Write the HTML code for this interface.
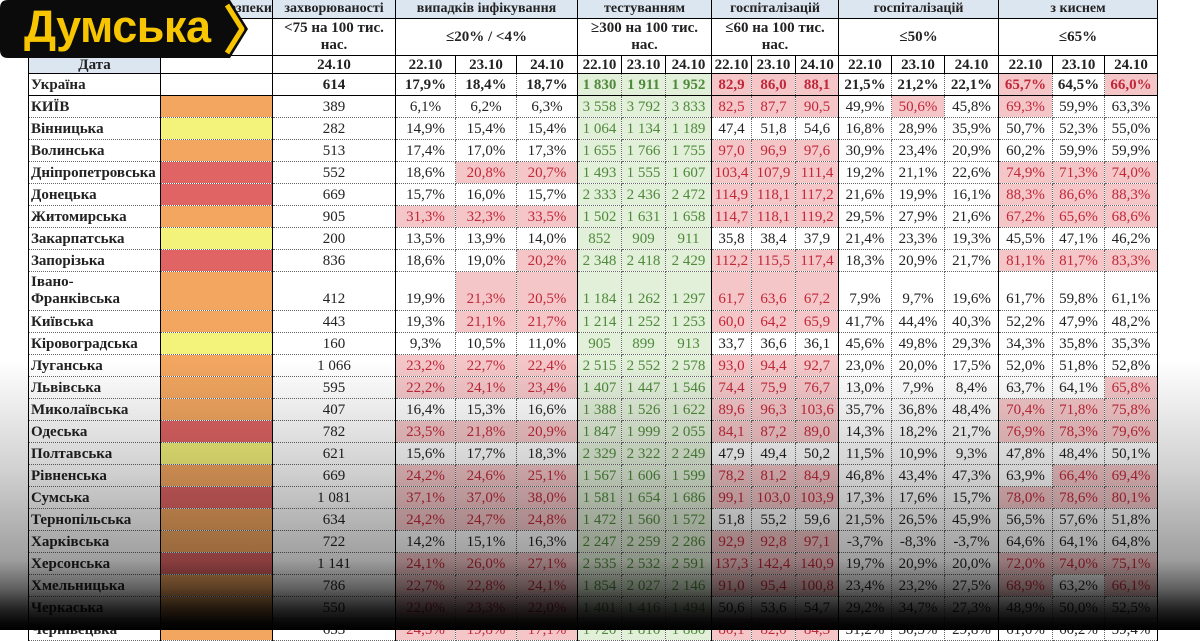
<!DOCTYPE html>
<html><head><meta charset="utf-8">
<style>
html,body{margin:0;padding:0;width:1200px;height:630px;overflow:hidden;background:#fff}
table{position:absolute;left:28px;top:-1px;border-collapse:collapse;table-layout:fixed;width:1130px}
td{border:1px dotted #666;padding:0;text-align:center;font-family:"Liberation Serif",serif;font-size:15px;color:#222;white-space:nowrap;overflow:hidden;line-height:18px}
colgroup{border-left:1px solid #000;border-right:1px solid #000}
tr{height:22px}
tr.h1{height:19px}
tr.h1 td{background:#dce6f1;font-weight:bold;font-size:14px;border-bottom:1px solid #000}
tr.h2{height:37px}
tr.h2 td{font-weight:bold;font-size:15px;border-bottom:1px solid #000;line-height:17px;white-space:normal}
tr.h3{height:18px}
tr.h3 td{font-weight:bold;font-size:15px;border-bottom:1px solid #000;border-left:1px solid #000;line-height:16px}
tr.ua td{font-weight:bold;border-bottom:1px solid #000}
td.n{text-align:left;font-weight:bold;font-size:15px;padding-left:2px}
td.p{background:#f4c6c8;color:#c0283a}
td.g{background:#e2efd9;color:#4f8a3c}
tr.iv{height:39px}
tr.iv td{vertical-align:bottom;padding-bottom:2px}
tr.iv td.n{line-height:17px;white-space:normal}
.O{background:#f2a660}.Y{background:#f3f27a}.R{background:#e06464}
#ov{position:absolute;left:0;top:0;width:1200px;height:630px;background:linear-gradient(to bottom,rgba(0,0,0,0) 0,rgba(0,0,0,0) 360px,rgba(0,0,0,.18) 470px,rgba(0,0,0,.38) 560px,rgba(0,0,0,.62) 588px,rgba(0,0,0,.85) 608px,rgba(0,0,0,.97) 622px,rgba(0,0,0,1) 630px)}
#logo{position:absolute;left:0;top:0;width:250px;height:58px}
#logo span{position:absolute;left:24px;top:1px;font-family:"Liberation Sans",sans-serif;font-weight:bold;font-size:45px;color:#f7c600;letter-spacing:-0.5px}
</style></head><body>
<table>
<colgroup><col style="width:132px"></colgroup>
<colgroup><col style="width:112px"></colgroup>
<colgroup><col style="width:123px"></colgroup>
<colgroup><col style="width:60px"><col style="width:61px"><col style="width:61px"></colgroup>
<colgroup><col style="width:44px"><col style="width:44px"><col style="width:46px"></colgroup>
<colgroup><col style="width:40px"><col style="width:44px"><col style="width:43px"></colgroup>
<colgroup><col style="width:53px"><col style="width:53px"><col style="width:54px"></colgroup>
<colgroup><col style="width:54px"><col style="width:52px"><col style="width:53px"></colgroup>
<tr class="h1"><td></td><td style="text-align:right">небезпеки</td><td>захворюваності</td><td colspan="3">випадків інфікування</td><td colspan="3">тестуванням</td><td colspan="3">госпіталізацій</td><td colspan="3">госпіталізацій</td><td colspan="3">з киснем</td></tr>
<tr class="h2"><td></td><td></td><td>&lt;75 на 100 тис. нас.</td><td colspan="3">≤20% / &lt;4%</td><td colspan="3">≥300 на 100 тис. нас.</td><td colspan="3">≤60 на 100 тис. нас.</td><td colspan="3">≤50%</td><td colspan="3">≤65%</td></tr>
<tr class="h3"><td style="background:#dce6f1">Дата</td><td></td><td>24.10</td><td>22.10</td><td>23.10</td><td>24.10</td><td>22.10</td><td>23.10</td><td>24.10</td><td>22.10</td><td>23.10</td><td>24.10</td><td>22.10</td><td>23.10</td><td>24.10</td><td>22.10</td><td>23.10</td><td>24.10</td></tr>
<tr class="ua"><td class="n">Україна</td><td></td><td>614</td><td>17,9%</td><td>18,4%</td><td>18,7%</td><td class="g">1 830</td><td class="g">1 911</td><td class="g">1 952</td><td class="p">82,9</td><td class="p">86,0</td><td class="p">88,1</td><td>21,5%</td><td>21,2%</td><td>22,1%</td><td class="p">65,7%</td><td>64,5%</td><td class="p">66,0%</td></tr>
<tr><td class="n">КИЇВ</td><td class="O"></td><td>389</td><td>6,1%</td><td>6,2%</td><td>6,3%</td><td class="g">3 558</td><td class="g">3 792</td><td class="g">3 833</td><td class="p">82,5</td><td class="p">87,7</td><td class="p">90,5</td><td>49,9%</td><td class="p">50,6%</td><td>45,8%</td><td class="p">69,3%</td><td>59,9%</td><td>63,3%</td></tr>
<tr><td class="n">Вінницька</td><td class="Y"></td><td>282</td><td>14,9%</td><td>15,4%</td><td>15,4%</td><td class="g">1 064</td><td class="g">1 134</td><td class="g">1 189</td><td>47,4</td><td>51,8</td><td>54,6</td><td>16,8%</td><td>28,9%</td><td>35,9%</td><td>50,7%</td><td>52,3%</td><td>55,0%</td></tr>
<tr><td class="n">Волинська</td><td class="O"></td><td>513</td><td>17,4%</td><td>17,0%</td><td>17,3%</td><td class="g">1 655</td><td class="g">1 766</td><td class="g">1 755</td><td class="p">97,0</td><td class="p">96,9</td><td class="p">97,6</td><td>30,9%</td><td>23,4%</td><td>20,9%</td><td>60,2%</td><td>59,9%</td><td>59,9%</td></tr>
<tr><td class="n">Дніпропетровська</td><td class="R"></td><td>552</td><td>18,6%</td><td class="p">20,8%</td><td class="p">20,7%</td><td class="g">1 493</td><td class="g">1 555</td><td class="g">1 607</td><td class="p">103,4</td><td class="p">107,9</td><td class="p">111,4</td><td>19,2%</td><td>21,1%</td><td>22,6%</td><td class="p">74,9%</td><td class="p">71,3%</td><td class="p">74,0%</td></tr>
<tr><td class="n">Донецька</td><td class="R"></td><td>669</td><td>15,7%</td><td>16,0%</td><td>15,7%</td><td class="g">2 333</td><td class="g">2 436</td><td class="g">2 472</td><td class="p">114,9</td><td class="p">118,1</td><td class="p">117,2</td><td>21,6%</td><td>19,9%</td><td>16,1%</td><td class="p">88,3%</td><td class="p">86,6%</td><td class="p">88,3%</td></tr>
<tr><td class="n">Житомирська</td><td class="O"></td><td>905</td><td class="p">31,3%</td><td class="p">32,3%</td><td class="p">33,5%</td><td class="g">1 502</td><td class="g">1 631</td><td class="g">1 658</td><td class="p">114,7</td><td class="p">118,1</td><td class="p">119,2</td><td>29,5%</td><td>27,9%</td><td>21,6%</td><td class="p">67,2%</td><td class="p">65,6%</td><td class="p">68,6%</td></tr>
<tr><td class="n">Закарпатська</td><td class="Y"></td><td>200</td><td>13,5%</td><td>13,9%</td><td>14,0%</td><td class="g">852</td><td class="g">909</td><td class="g">911</td><td>35,8</td><td>38,4</td><td>37,9</td><td>21,4%</td><td>23,3%</td><td>19,3%</td><td>45,5%</td><td>47,1%</td><td>46,2%</td></tr>
<tr><td class="n">Запорізька</td><td class="R"></td><td>836</td><td>18,6%</td><td>19,0%</td><td class="p">20,2%</td><td class="g">2 348</td><td class="g">2 418</td><td class="g">2 429</td><td class="p">112,2</td><td class="p">115,5</td><td class="p">117,4</td><td>18,3%</td><td>20,9%</td><td>21,7%</td><td class="p">81,1%</td><td class="p">81,7%</td><td class="p">83,3%</td></tr>
<tr class="iv"><td class="n">Івано-<br>Франківська</td><td class="O"></td><td>412</td><td>19,9%</td><td class="p">21,3%</td><td class="p">20,5%</td><td class="g">1 184</td><td class="g">1 262</td><td class="g">1 297</td><td class="p">61,7</td><td class="p">63,6</td><td class="p">67,2</td><td>7,9%</td><td>9,7%</td><td>19,6%</td><td>61,7%</td><td>59,8%</td><td>61,1%</td></tr>
<tr><td class="n">Київська</td><td class="O"></td><td>443</td><td>19,3%</td><td class="p">21,1%</td><td class="p">21,7%</td><td class="g">1 214</td><td class="g">1 252</td><td class="g">1 253</td><td class="p">60,0</td><td class="p">64,2</td><td class="p">65,9</td><td>41,7%</td><td>44,4%</td><td>40,3%</td><td>52,2%</td><td>47,9%</td><td>48,2%</td></tr>
<tr><td class="n">Кіровоградська</td><td class="Y"></td><td>160</td><td>9,3%</td><td>10,5%</td><td>11,0%</td><td class="g">905</td><td class="g">899</td><td class="g">913</td><td>33,7</td><td>36,6</td><td>36,1</td><td>45,6%</td><td>49,8%</td><td>29,3%</td><td>34,3%</td><td>35,8%</td><td>35,3%</td></tr>
<tr><td class="n">Луганська</td><td class="O"></td><td>1 066</td><td class="p">23,2%</td><td class="p">22,7%</td><td class="p">22,4%</td><td class="g">2 515</td><td class="g">2 552</td><td class="g">2 578</td><td class="p">93,0</td><td class="p">94,4</td><td class="p">92,7</td><td>23,0%</td><td>20,0%</td><td>17,5%</td><td>52,0%</td><td>51,8%</td><td>52,8%</td></tr>
<tr><td class="n">Львівська</td><td class="O"></td><td>595</td><td class="p">22,2%</td><td class="p">24,1%</td><td class="p">23,4%</td><td class="g">1 407</td><td class="g">1 447</td><td class="g">1 546</td><td class="p">74,4</td><td class="p">75,9</td><td class="p">76,7</td><td>13,0%</td><td>7,9%</td><td>8,4%</td><td>63,7%</td><td>64,1%</td><td class="p">65,8%</td></tr>
<tr><td class="n">Миколаївська</td><td class="O"></td><td>407</td><td>16,4%</td><td>15,3%</td><td>16,6%</td><td class="g">1 388</td><td class="g">1 526</td><td class="g">1 622</td><td class="p">89,6</td><td class="p">96,3</td><td class="p">103,6</td><td>35,7%</td><td>36,8%</td><td>48,4%</td><td class="p">70,4%</td><td class="p">71,8%</td><td class="p">75,8%</td></tr>
<tr><td class="n">Одеська</td><td class="R"></td><td>782</td><td class="p">23,5%</td><td class="p">21,8%</td><td class="p">20,9%</td><td class="g">1 847</td><td class="g">1 999</td><td class="g">2 055</td><td class="p">84,1</td><td class="p">87,2</td><td class="p">89,0</td><td>14,3%</td><td>18,2%</td><td>21,7%</td><td class="p">76,9%</td><td class="p">78,3%</td><td class="p">79,6%</td></tr>
<tr><td class="n">Полтавська</td><td class="Y"></td><td>621</td><td>15,6%</td><td>17,7%</td><td>18,3%</td><td class="g">2 329</td><td class="g">2 322</td><td class="g">2 249</td><td>47,9</td><td>49,4</td><td>50,2</td><td>11,5%</td><td>10,9%</td><td>9,3%</td><td>47,8%</td><td>48,4%</td><td>50,1%</td></tr>
<tr><td class="n">Рівненська</td><td class="O"></td><td>669</td><td class="p">24,2%</td><td class="p">24,6%</td><td class="p">25,1%</td><td class="g">1 567</td><td class="g">1 606</td><td class="g">1 599</td><td class="p">78,2</td><td class="p">81,2</td><td class="p">84,9</td><td>46,8%</td><td>43,4%</td><td>47,3%</td><td>63,9%</td><td class="p">66,4%</td><td class="p">69,4%</td></tr>
<tr><td class="n">Сумська</td><td class="R"></td><td>1 081</td><td class="p">37,1%</td><td class="p">37,0%</td><td class="p">38,0%</td><td class="g">1 581</td><td class="g">1 654</td><td class="g">1 686</td><td class="p">99,1</td><td class="p">103,0</td><td class="p">103,9</td><td>17,3%</td><td>17,6%</td><td>15,7%</td><td class="p">78,0%</td><td class="p">78,6%</td><td class="p">80,1%</td></tr>
<tr><td class="n">Тернопільська</td><td class="O"></td><td>634</td><td class="p">24,2%</td><td class="p">24,7%</td><td class="p">24,8%</td><td class="g">1 472</td><td class="g">1 560</td><td class="g">1 572</td><td>51,8</td><td>55,2</td><td>59,6</td><td>21,5%</td><td>26,5%</td><td>45,9%</td><td>56,5%</td><td>57,6%</td><td>51,8%</td></tr>
<tr><td class="n">Харківська</td><td class="O"></td><td>722</td><td>14,2%</td><td>15,1%</td><td>16,3%</td><td class="g">2 247</td><td class="g">2 259</td><td class="g">2 286</td><td class="p">92,9</td><td class="p">92,8</td><td class="p">97,1</td><td>-3,7%</td><td>-8,3%</td><td>-3,7%</td><td>64,6%</td><td>64,1%</td><td>64,8%</td></tr>
<tr><td class="n">Херсонська</td><td class="R"></td><td>1 141</td><td class="p">24,1%</td><td class="p">26,0%</td><td class="p">27,1%</td><td class="g">2 535</td><td class="g">2 532</td><td class="g">2 591</td><td class="p">137,3</td><td class="p">142,4</td><td class="p">140,9</td><td>19,7%</td><td>20,9%</td><td>20,0%</td><td class="p">72,0%</td><td class="p">74,0%</td><td class="p">75,1%</td></tr>
<tr><td class="n">Хмельницька</td><td class="O"></td><td>786</td><td class="p">22,7%</td><td class="p">22,8%</td><td class="p">24,1%</td><td class="g">1 854</td><td class="g">2 027</td><td class="g">2 146</td><td class="p">91,0</td><td class="p">95,4</td><td class="p">100,8</td><td>23,4%</td><td>23,2%</td><td>27,5%</td><td class="p">68,9%</td><td>63,2%</td><td class="p">66,1%</td></tr>
<tr><td class="n">Черкаська</td><td class="O"></td><td>550</td><td class="p">22,0%</td><td class="p">23,3%</td><td class="p">22,0%</td><td class="g">1 401</td><td class="g">1 416</td><td class="g">1 494</td><td>50,6</td><td>53,6</td><td>54,7</td><td>29,2%</td><td>34,7%</td><td>27,3%</td><td>48,9%</td><td>50,0%</td><td>52,5%</td></tr>
<tr><td class="n">Чернівецька</td><td class="O"></td><td>633</td><td class="p">24,5%</td><td class="p">19,8%</td><td class="p">17,1%</td><td class="g">1 720</td><td class="g">1 810</td><td class="g">1 880</td><td class="p">80,1</td><td class="p">82,0</td><td class="p">84,3</td><td>31,2%</td><td>30,5%</td><td>29,8%</td><td>61,0%</td><td>60,2%</td><td>59,4%</td></tr>
</table>
<div id="ov"></div>
<div id="logo">
<svg width="250" height="58" viewBox="0 0 250 58">
<path d="M8 0 H230 L248 29 L230 58 H8 Q0 58 0 50 V8 Q0 0 8 0 Z" fill="#0b0b0b"/>
<path d="M227 5 L242 29 L227 53" fill="none" stroke="#f7c600" stroke-width="5" stroke-linejoin="round"/>
</svg>
<span>Думська</span>
</div>
</body></html>
